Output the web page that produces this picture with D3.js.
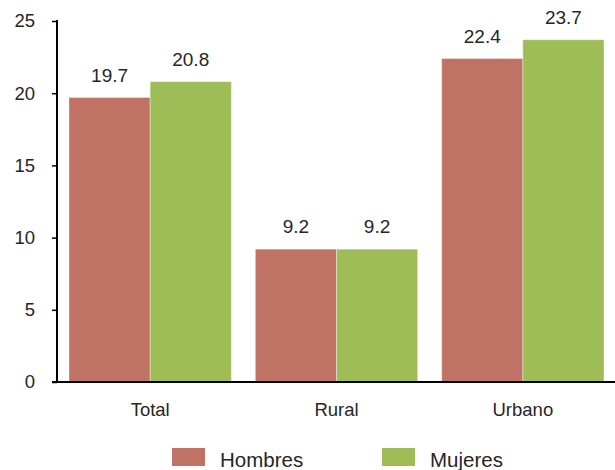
<!DOCTYPE html>
<html>
<head>
<meta charset="utf-8">
<script src="https://cdn.jsdelivr.net/npm/d3@7"></script>
<style>
  body { margin: 0; background: #fff; }
  text { font-family: "Liberation Sans", Arial, sans-serif; fill: #262626; }
</style>
</head>
<body>
<div class="main"></div>
<script>
const categories = ["Total", "Rural", "Urbano"];
const series = ["Hombres", "Mujeres"];
const hombres = [19.7, 9.2, 22.4];
const mujeres = [20.8, 9.2, 23.7];
const yTicks = [0, 5, 10, 15, 20, 25];

const width = 615, height = 470;
const plotLeft = 57, plotRight = 616, plotTop = 21, plotBottom = 382;

const color = d3.scaleOrdinal()
    .domain(series)
    .range(["#c07364", "#9fbd57"]);

const svg = d3.select(".main").append("svg")
    .attr("width", width)
    .attr("height", height);

const x0 = d3.scaleBand()
    .domain(categories)
    .range([plotLeft, plotRight])
    .paddingInner(0.129)
    .paddingOuter(0.0645);

const x1 = d3.scaleBand()
    .domain(series)
    .range([0, x0.bandwidth()]);

const y = d3.scaleLinear()
    .domain([0, 25])
    .range([plotBottom, plotTop]);

const rows = categories.map((c, i) => ({
    cat: c,
    values: [
        { key: "Hombres", value: hombres[i] },
        { key: "Mujeres", value: mujeres[i] }
    ]
}));

// bars
const group = svg.selectAll(".grp")
    .data(rows)
    .enter()
    .append("g")
    .attr("class", "grp")
    .attr("transform", d => "translate(" + x0(d.cat) + ",0)");

group.selectAll("rect")
    .data(d => d.values)
    .enter()
    .append("rect")
    .attr("x", d => x1(d.key))
    .attr("y", d => y(d.value))
    .attr("width", x1.bandwidth())
    .attr("height", d => plotBottom - y(d.value))
    .attr("fill", d => color(d.key))
    .attr("stroke", "#ffffff")
    .attr("stroke-opacity", 0.35)
    .attr("stroke-width", 1);

group.selectAll(".lbl")
    .data(d => d.values)
    .enter()
    .append("text")
    .attr("class", "lbl")
    .attr("x", d => x1(d.key) + x1.bandwidth() / 2)
    .attr("y", d => y(d.value) - 16)
    .attr("text-anchor", "middle")
    .attr("font-size", 19)
    .text(d => d.value.toFixed(1));

// y axis
const yAxis = svg.append("g")
    .attr("transform", "translate(" + plotLeft + ",0)")
    .call(d3.axisLeft(y).tickValues(yTicks).tickSize(5).tickPadding(17));
yAxis.select(".domain").attr("stroke", "#000").attr("stroke-width", 2)
    .attr("d", "M0," + (plotTop - 1) + "V" + plotBottom);
yAxis.selectAll(".tick line").attr("stroke", "#000").attr("stroke-width", 1.5);
yAxis.selectAll(".tick text").attr("font-size", 18.5).attr("fill", "#262626")
    .attr("font-family", "Liberation Sans, Arial, sans-serif");

// x axis
const xAxis = svg.append("g")
    .attr("transform", "translate(0," + plotBottom + ")")
    .call(d3.axisBottom(x0).tickSize(0).tickPadding(21));
xAxis.select(".domain").attr("stroke", "#000").attr("stroke-width", 2)
    .attr("d", "M" + (plotLeft - 5) + ",0H" + plotRight);
xAxis.selectAll(".tick text").attr("font-size", 18.5).attr("fill", "#262626")
    .attr("font-family", "Liberation Sans, Arial, sans-serif");

// legend
const legendX = [172, 382];
const legend = svg.selectAll(".legend")
    .data(series)
    .enter()
    .append("g")
    .attr("class", "legend")
    .attr("transform", (d, i) => "translate(" + legendX[i] + ",448)");

legend.append("rect")
    .attr("width", 33)
    .attr("height", 18)
    .attr("fill", d => color(d));

legend.append("text")
    .attr("x", 48)
    .attr("y", 18.5)
    .attr("font-size", 20.5)
    .text(d => d);
</script>
</body>
</html>
